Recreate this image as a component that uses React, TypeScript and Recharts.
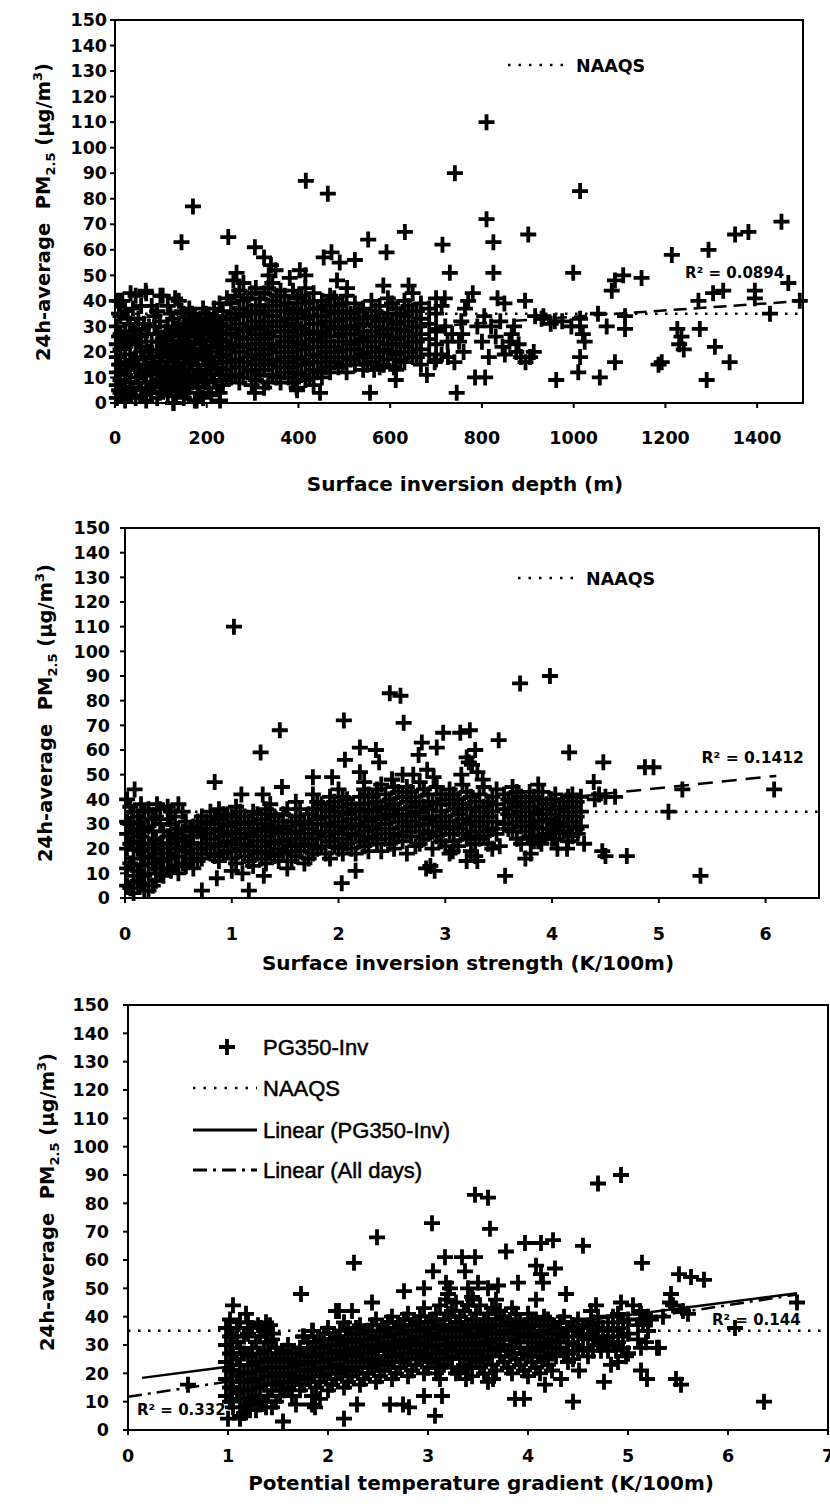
import React from 'react';
import { ScatterChart, Scatter, XAxis, YAxis, ReferenceLine, ReferenceArea, ReferenceDot, Legend } from 'recharts';

type P = [number, number];

const pmTicks = [0, 10, 20, 30, 40, 50, 60, 70, 80, 90, 100, 110, 120, 130, 140, 150];
const depthTicks = [0, 200, 400, 600, 800, 1000, 1200, 1400];
const strengthTicks = [0, 1, 2, 3, 4, 5, 6];
const gradientTicks = [0, 1, 2, 3, 4, 5, 6, 7];
const NAAQS = 35;

const depthTrend: P[] = [[0, 21.4], [1500, 40]];
const strengthTrend: P[] = [[0, 22], [6.1, 49.5]];
const pgTrend: P[] = [[0.14, 18.4], [6.69, 48.3]];
const allDaysTrend: P[] = [[0, 11.7], [6.69, 47.8]];

// ---------- Chart 1: surface inversion depth ----------
const depthDense: P[] = [
  [4,2],[4,7],[4,12],[4,18],[4,23],[4,30],[4,40],
  [12,4],[12,9],[12,15],[12,21],[12,27],[12,34],
  [22,1],[22,6],[22,11],[22,16],[22,22],[22,28],[22,36],
  [33,3],[33,8],[33,14],[33,19],[33,24],[33,31],
  [45,2],[45,10],[45,17],[45,23],[45,29],[45,42],
  [57,5],[57,12],[57,20],[57,26],[57,38],
  [68,1],[68,8],[68,15],[68,22],[68,27],[68,43],
  [80,4],[80,11],[80,18],[80,24],[80,38],
  [92,2],[92,9],[92,14],[92,21],[92,27],[92,36],
  [104,6],[104,12],[104,19],[104,25],[104,42],
  [115,3],[115,10],[115,16],[115,23],[115,30],[115,38],
  [127,0],[127,7],[127,14],[127,20],[127,26],[127,33],
  [139,5],[139,11],[139,18],[139,24],[139,31],[139,40],
  [150,2],[150,9],[150,15],[150,22],[150,28],[150,35],
  [162,6],[162,13],[162,19],[162,26],[162,32],[162,37],
  [174,1],[174,10],[174,17],[174,23],[174,30],[174,34],
  [186,4],[186,12],[186,20],[186,27],[186,33],
  [198,8],[198,15],[198,21],[198,29],[198,35],
  [210,3],[210,11],[210,18],[210,25],[210,31],
  [222,6],[222,14],[222,22],[222,28],[222,34],
  [235,7],[235,13],[235,19],[235,24],[235,30],[235,36],
  [253,10],[253,16],[253,22],[253,27],[253,33],[253,39],
  [271,8],[271,14],[271,20],[271,26],[271,31],[271,37],[271,44],
  [289,12],[289,18],[289,23],[289,29],[289,35],[289,41],
  [307,9],[307,15],[307,21],[307,27],[307,32],[307,38],[307,45],
  [325,6],[325,13],[325,19],[325,25],[325,30],[325,36],[325,43],
  [343,11],[343,17],[343,23],[343,28],[343,34],[343,40],[343,47],
  [361,8],[361,14],[361,20],[361,26],[361,32],[361,38],[361,44],
  [379,10],[379,16],[379,22],[379,28],[379,33],[379,39],
  [397,5],[397,12],[397,18],[397,24],[397,30],[397,35],[397,41],
  [415,9],[415,15],[415,21],[415,27],[415,33],[415,39],[415,45],
  [433,7],[433,13],[433,19],[433,25],[433,31],[433,37],[433,43],
  [451,10],[451,16],[451,22],[451,28],[451,34],[451,40],
  [469,12],[469,18],[469,24],[469,30],[469,36],[469,42],
  [487,14],[487,20],[487,26],[487,32],[487,38],
  [505,12],[505,18],[505,24],[505,30],[505,36],[505,42],
  [523,15],[523,21],[523,27],[523,33],[523,39],
  [541,13],[541,19],[541,25],[541,31],[541,37],
  [559,16],[559,22],[559,28],[559,34],[559,40],
  [577,14],[577,20],[577,26],[577,32],[577,38],
  [595,17],[595,23],[595,29],[595,35],[595,41],
  [613,13],[613,19],[613,25],[613,31],[613,37],
  [631,16],[631,22],[631,28],[631,34],[631,40],
  [649,18],[649,24],[649,30],[649,36],[649,43],
  [667,15],[667,21],[667,27],[667,33],[667,39],
  [685,19],[685,25],[685,31],[685,37],
  [700,17],[700,23],[700,29],[700,35],[700,41],
];
const depthFill: P[] = [
  [9,5],[9,15],[9,26],[9,35],[28,4],[28,13],[28,25],[28,33],[39,6],[39,17],[39,28],[39,37],
  [51,8],[51,15],[51,24],[51,33],[63,3],[63,11],[63,18],[63,31],[74,6],[74,13],[74,20],[74,30],
  [86,7],[86,16],[86,30],[86,34],[98,4],[98,12],[98,18],[98,24],[98,32],[110,8],[110,14],[110,21],[110,28],
  [121,5],[121,12],[121,19],[121,27],[121,35],[133,3],[133,9],[133,16],[133,22],[133,29],
  [145,7],[145,13],[145,20],[145,27],[145,36],[156,4],[156,11],[156,18],[156,24],[156,31],
  [168,8],[168,15],[168,21],[168,28],[168,35],[180,6],[180,13],[180,19],[180,26],[180,32],
  [192,2],[192,9],[192,17],[192,24],[192,30],[192,37],[204,6],[204,13],[204,20],[204,27],[204,33],
  [216,9],[216,16],[216,24],[216,30],[216,37],[228,4],[228,11],[228,18],[228,25],[228,31],[228,39],
  [244,10],[244,16],[244,21],[244,27],[244,33],[244,41],[262,11],[262,17],[262,23],[262,29],[262,35],[262,42],
  [280,10],[280,16],[280,22],[280,28],[280,34],[280,40],[298,7],[298,13],[298,19],[298,25],[298,30],[298,36],[298,43],
  [316,11],[316,17],[316,23],[316,29],[316,35],[316,41],[334,8],[334,15],[334,21],[334,27],[334,32],[334,38],[334,45],
  [352,10],[352,16],[352,22],[352,30],[352,36],[352,42],[370,12],[370,18],[370,24],[370,30],[370,36],[370,42],
  [388,8],[388,14],[388,20],[388,26],[388,31],[388,37],[388,44],[406,11],[406,17],[406,23],[406,29],[406,36],[406,42],
  [424,10],[424,16],[424,22],[424,28],[424,34],[424,40],[442,12],[442,18],[442,24],[442,31],[442,37],
  [460,14],[460,20],[460,26],[460,32],[460,38],[478,16],[478,22],[478,29],[478,35],[478,41],
  [496,15],[496,21],[496,27],[496,33],[496,39],[514,17],[514,23],[514,29],[514,35],
  [532,18],[532,24],[532,30],[532,36],[550,15],[550,20],[550,26],[550,33],
  [568,18],[568,24],[568,30],[568,36],[586,15],[586,21],[586,27],[586,33],
  [604,20],[604,26],[604,32],[604,39],[622,17],[622,23],[622,29],[622,35],
  [640,20],[640,26],[640,32],[640,38],[658,18],[658,24],[658,30],[658,36],
];
const depthMid: P[] = [
  [325,57],[340,54],[350,52],[335,50],[258,48],[265,51],[280,47],[381,49],[403,52],[415,50],
  [484,48],[506,45],[585,46],[640,46],[11,40],[34,43],[67,44],[99,42],[131,41],[16,40],
  [712,19],[726,18],[740,16],[697,16],[750,24],[757,27],[719,41],[712,38],[780,43],[770,40],
  [763,37],[834,41],[849,39],[894,40],[916,34],[934,34],[830,26],[845,22],[860,24],[875,20],
  [885,18],[895,16],[850,19],[865,27],[880,23],[905,18],[913,20],[720,30],[735,27],[755,32],
  [790,30],[805,34],[820,30],[840,32],[870,30],[760,20],[800,24],[815,18],[725,24],[700,28],
  [930,33],[950,31],[975,32],[995,30],[959,32],[1014,33],[1014,30],[1020,27],[1024,24],[1072,30],
  [1112,29],[1112,34],[1053,35],[1226,29],[1235,26],[1230,23],[1240,21],[1275,29],
];
const depthHigh: P[] = [
  [810,110],[741,90],[1014,83],[416,87],[464,82],[170,77],[810,72],[145,63],[247,65],[632,67],
  [552,64],[592,59],[714,62],[825,63],[901,66],[305,61],[523,56],[455,57],[472,59],[490,55],
  [730,51],[825,51],[999,51],[1453,71],[1352,66],[1381,67],[1294,60],[1214,58],[1468,47],[1090,48],
  [1108,50],[1148,49],[1083,44],[1304,43],[1326,44],[1395,44],[1395,41],[1272,40],[1493,40],[1428,35],
];
const depthLow: P[] = [
  [305,4],[128,0],[178,1],[229,1],[396,6],[447,4],[233,9],[556,4],[612,9],[565,13],
  [608,14],[745,4],[785,10],[807,10],[680,11],[962,9],[1010,12],[1057,10],[1290,9],[1340,16],
  [1308,22],[1090,16],[1192,16],[1185,15],[1014,18],
];

// ---------- Chart 2: surface inversion strength ----------
const strengthDense: P[] = [
  [0.02,5],[0.02,12],[0.02,20],[0.02,26],[0.02,31],[0.02,40],
  [0.08,2],[0.08,9],[0.08,16],[0.08,23],[0.08,28],[0.08,35],[0.09,44],
  [0.15,6],[0.15,13],[0.15,19],[0.15,25],[0.15,31],[0.15,38],
  [0.22,3],[0.22,10],[0.22,17],[0.22,22],[0.22,29],[0.22,36],
  [0.29,7],[0.29,12],[0.29,18],[0.29,24],[0.29,33],[0.3,38],
  [0.36,9],[0.36,15],[0.36,20],[0.36,27],[0.4,37],
  [0.43,11],[0.43,16],[0.43,22],[0.43,30],[0.43,35],
  [0.5,10],[0.5,17],[0.5,24],[0.5,28],[0.5,38],
  [0.57,13],[0.57,19],[0.57,23],[0.57,31],
  [0.64,12],[0.64,18],[0.64,25],[0.64,29],
  [0.72,16],[0.72,22],[0.72,28],[0.72,33],
  [0.8,18],[0.8,24],[0.8,30],[0.8,35],
  [0.88,15],[0.88,21],[0.88,27],[0.88,32],[0.88,36],
  [0.96,19],[0.96,23],[0.96,29],[0.96,34],
  [1.04,14],[1.04,20],[1.04,26],[1.04,31],[1.04,37],
  [1.12,17],[1.12,22],[1.12,28],[1.12,33],
  [1.2,13],[1.2,19],[1.2,25],[1.2,30],[1.2,35],
  [1.28,16],[1.28,21],[1.28,27],[1.28,32],
  [1.36,18],[1.36,23],[1.36,29],[1.36,34],[1.36,38],
  [1.44,15],[1.44,20],[1.44,26],[1.44,31],
  [1.52,12],[1.52,19],[1.52,24],[1.52,29],[1.52,36],
  [1.6,17],[1.6,22],[1.6,27],[1.6,33],[1.6,39],
  [1.68,14],[1.68,21],[1.68,26],[1.68,31],
  [1.76,18],[1.76,24],[1.76,30],[1.76,36],[1.76,42],
  [1.84,21],[1.84,27],[1.84,33],[1.84,38],
  [1.92,16],[1.92,23],[1.92,29],[1.92,35],[1.92,41],
  [2.0,20],[2.0,26],[2.0,31],[2.0,37],[2.0,44],
  [2.08,22],[2.08,28],[2.08,34],[2.08,40],
  [2.16,18],[2.16,25],[2.16,30],[2.16,36],
  [2.24,21],[2.24,27],[2.24,33],[2.24,38],[2.24,44],
  [2.32,24],[2.32,29],[2.32,35],[2.32,41],
  [2.4,19],[2.4,26],[2.4,32],[2.4,37],[2.4,46],
  [2.48,22],[2.48,28],[2.48,34],[2.48,40],[2.5,48],
  [2.56,25],[2.56,31],[2.56,36],[2.56,43],[2.6,50],
  [2.64,18],[2.64,27],[2.64,33],[2.64,39],[2.64,45],
  [2.72,21],[2.72,29],[2.72,35],[2.72,41],[2.7,50],
  [2.8,24],[2.8,30],[2.8,37],[2.8,44],[2.83,52],
  [2.88,20],[2.88,27],[2.88,33],[2.88,39],[2.89,49],
  [2.96,23],[2.96,29],[2.96,35],[2.96,42],
  [3.04,18],[3.04,26],[3.04,31],[3.04,38],[3.04,44],
  [3.12,21],[3.12,28],[3.12,34],[3.12,40],
  [3.2,24],[3.2,30],[3.2,36],[3.2,43],
  [3.28,22],[3.28,27],[3.28,33],[3.28,39],
  [3.36,25],[3.36,31],[3.36,37],[3.36,45],
  [3.44,20],[3.44,28],[3.44,35],[3.44,41],
  [3.55,30],[3.55,36],[3.55,42],
  [3.63,27],[3.63,33],[3.63,39],[3.63,45],
  [3.71,22],[3.71,29],[3.71,35],[3.71,41],
  [3.79,25],[3.79,31],[3.79,37],[3.79,43],
  [3.87,23],[3.87,28],[3.87,34],[3.87,40],[3.87,46],
  [3.95,26],[3.95,32],[3.95,38],
  [4.03,24],[4.03,30],[4.03,36],[4.03,42],
  [4.11,27],[4.11,33],[4.11,39],
  [4.19,25],[4.19,31],[4.19,37],[4.19,42],
  [4.27,29],[4.27,35],[4.27,41],
];
const strengthFill: P[] = [
  [0.05,4],[0.05,14],[0.05,22],[0.05,30],[0.05,37],[0.12,7],[0.12,11],[0.12,20],[0.12,27],[0.12,33],
  [0.18,3],[0.18,9],[0.18,16],[0.18,22],[0.18,28],[0.18,35],[0.26,5],[0.26,14],[0.26,20],[0.26,27],[0.26,32],
  [0.33,10],[0.33,16],[0.33,22],[0.33,30],[0.33,36],[0.4,12],[0.4,18],[0.4,25],[0.4,32],
  [0.47,13],[0.47,20],[0.47,26],[0.47,33],[0.54,14],[0.54,21],[0.54,27],[0.54,35],
  [0.61,16],[0.61,22],[0.61,28],[0.68,15],[0.68,20],[0.68,27],[0.68,31],[0.76,20],[0.76,26],[0.76,31],
  [0.84,17],[0.84,22],[0.84,28],[0.84,33],[0.92,18],[0.92,25],[0.92,30],[0.92,34],
  [1.0,16],[1.0,22],[1.0,27],[1.0,33],[1.08,19],[1.08,24],[1.08,30],[1.08,35],
  [1.16,15],[1.16,21],[1.16,26],[1.16,31],[1.24,18],[1.24,23],[1.24,28],[1.24,34],
  [1.32,14],[1.32,19],[1.32,25],[1.32,30],[1.32,36],[1.4,17],[1.4,22],[1.4,27],[1.4,33],
  [1.48,18],[1.48,23],[1.48,28],[1.48,34],[1.56,15],[1.56,21],[1.56,26],[1.56,31],
  [1.64,19],[1.64,24],[1.64,30],[1.64,36],[1.72,16],[1.72,22],[1.72,28],[1.72,34],
  [1.8,20],[1.8,26],[1.8,32],[1.8,39],[1.88,18],[1.88,25],[1.88,30],[1.88,36],
  [1.96,21],[1.96,27],[1.96,33],[1.96,39],[2.04,18],[2.04,24],[2.04,29],[2.04,35],[2.04,41],
  [2.12,20],[2.12,26],[2.12,32],[2.12,38],[2.2,23],[2.2,29],[2.2,35],[2.2,41],
  [2.28,19],[2.28,25],[2.28,31],[2.28,36],[2.28,42],[2.36,22],[2.36,28],[2.36,33],[2.36,39],[2.36,44],
  [2.44,24],[2.44,30],[2.44,36],[2.44,42],[2.52,20],[2.52,26],[2.52,33],[2.52,38],[2.52,45],
  [2.6,23],[2.6,29],[2.6,34],[2.6,41],[2.68,25],[2.68,31],[2.68,37],[2.68,43],
  [2.76,22],[2.76,27],[2.76,33],[2.76,39],[2.76,47],[2.84,26],[2.84,32],[2.84,36],[2.84,42],
  [2.92,25],[2.92,31],[2.92,38],[2.92,45],[3.0,21],[3.0,28],[3.0,33],[3.0,40],
  [3.08,23],[3.08,29],[3.08,36],[3.08,42],[3.16,26],[3.16,32],[3.16,38],[3.16,46],
  [3.24,19],[3.24,25],[3.24,31],[3.24,36],[3.24,41],[3.32,24],[3.32,29],[3.32,35],[3.32,42],
  [3.4,22],[3.4,27],[3.4,33],[3.4,39],[3.48,26],[3.48,31],[3.48,38],[3.48,44],
  [3.59,28],[3.59,34],[3.59,40],[3.67,24],[3.67,31],[3.67,37],[3.67,43],[3.75,27],[3.75,33],[3.75,39],
  [3.83,23],[3.83,29],[3.83,35],[3.83,41],[3.91,25],[3.91,31],[3.91,36],[3.91,43],
  [3.99,28],[3.99,34],[3.99,40],[4.07,26],[4.07,31],[4.07,37],[4.15,23],[4.15,29],[4.15,35],[4.15,41],
  [4.23,28],[4.23,33],[4.23,39],
];
const strengthHigh: P[] = [
  [1.02,110],[2.48,83],[2.58,82],[2.61,71],[2.05,72],[1.45,68],[1.27,59],[0.84,47],[1.09,42],[1.29,42],
  [1.47,45],[1.76,49],[1.94,49],[2.06,56],[2.2,61],[2.35,60],[2.38,55],[2.2,51],[2.24,47],[3.98,90],
  [3.7,87],[2.98,67],[3.14,67],[3.23,68],[3.5,64],[2.78,63],[2.92,61],[2.75,58],[4.16,59],[4.48,55],
  [4.87,53],[4.95,53],[4.39,47],[5.22,44],[6.08,44],[5.09,35],[4.59,41],[4.44,42],[3.2,57],[3.25,54],
  [3.3,51],[3.15,50],[3.35,48],[3.28,60],[3.22,55],[2.5,48],[4.4,40],[4.5,41],
];
const strengthLow: P[] = [
  [2.03,6],[2.16,11],[1.16,3],[0.72,3],[1.3,9],[0.86,8],[1.0,11],[1.1,10],[5.39,9],[4.7,17],
  [4.5,17],[4.47,19],[4.14,20],[3.75,16],[3.56,9],[3.28,17],[3.3,15],[2.82,12],[2.9,11],[2.86,13],
  [3.51,21],[3.8,18],[3.8,24],[3.8,29],[4.0,24],[4.02,27],[4.05,29],[4.24,26],[3.07,19],[3.2,15],
  [4.3,22],[3.9,22],[4.05,20],
];

// ---------- Chart 3: potential temperature gradient ----------
const gradientDense: P[] = [
  [0.98,12],[0.98,18],[0.98,24],[0.98,30],[0.98,36],
  [1.05,8],[1.05,15],[1.05,21],[1.05,27],[1.05,33],
  [1.12,5],[1.12,11],[1.12,17],[1.12,23],[1.12,29],[1.12,38],
  [1.2,9],[1.2,14],[1.2,20],[1.2,26],[1.2,34],
  [1.28,7],[1.28,12],[1.28,18],[1.28,24],[1.28,31],
  [1.36,10],[1.36,16],[1.36,22],[1.36,28],[1.36,35],
  [1.44,8],[1.44,14],[1.44,19],[1.44,25],[1.44,32],
  [1.52,12],[1.52,17],[1.52,22],[1.52,27],
  [1.6,15],[1.6,20],[1.6,25],[1.6,30],
  [1.68,9],[1.68,18],[1.68,23],[1.68,27],
  [1.76,16],[1.76,21],[1.76,26],[1.76,33],
  [1.84,12],[1.84,19],[1.84,24],[1.84,29],[1.84,35],
  [1.92,17],[1.92,22],[1.92,27],[1.92,32],
  [2.0,14],[2.0,20],[2.0,25],[2.0,30],[2.0,36],
  [2.08,18],[2.08,23],[2.08,28],[2.08,33],
  [2.16,15],[2.16,21],[2.16,26],[2.16,31],[2.16,38],
  [2.24,19],[2.24,24],[2.24,29],[2.24,34],
  [2.32,16],[2.32,22],[2.32,27],[2.32,32],[2.32,37],
  [2.4,20],[2.4,25],[2.4,30],[2.4,35],
  [2.48,17],[2.48,23],[2.48,28],[2.48,33],[2.48,39],
  [2.56,21],[2.56,26],[2.56,31],[2.56,36],
  [2.64,18],[2.64,24],[2.64,29],[2.64,34],[2.64,40],
  [2.72,22],[2.72,27],[2.72,32],[2.72,37],
  [2.8,19],[2.8,25],[2.8,30],[2.8,35],[2.8,41],
  [2.88,23],[2.88,28],[2.88,33],[2.88,38],
  [2.96,20],[2.96,26],[2.96,31],[2.96,36],[2.96,43],
  [3.04,24],[3.04,29],[3.04,34],[3.04,39],
  [3.12,18],[3.12,22],[3.12,27],[3.12,32],[3.12,37],[3.12,44],
  [3.2,25],[3.2,30],[3.2,35],[3.2,41],[3.2,48],
  [3.28,20],[3.28,28],[3.28,33],[3.28,38],[3.28,45],
  [3.36,23],[3.36,27],[3.36,31],[3.36,36],[3.36,42],
  [3.44,19],[3.44,25],[3.44,30],[3.44,34],[3.44,39],[3.44,47],
  [3.52,22],[3.52,28],[3.52,33],[3.52,37],[3.52,44],
  [3.6,17],[3.6,26],[3.6,31],[3.6,36],[3.6,41],[3.6,50],
  [3.68,21],[3.68,29],[3.68,34],[3.68,39],[3.68,46],
  [3.76,24],[3.76,30],[3.76,35],[3.76,40],
  [3.84,20],[3.84,27],[3.84,32],[3.84,37],[3.84,43],
  [3.92,23],[3.92,29],[3.92,34],[3.92,38],
  [4.0,19],[4.0,26],[4.0,31],[4.0,36],[4.0,41],
  [4.08,22],[4.08,28],[4.08,33],[4.08,39],[4.08,46],
  [4.16,25],[4.16,30],[4.16,35],[4.16,40],
  [4.24,21],[4.24,27],[4.24,32],[4.24,37],
  [4.32,29],[4.32,34],[4.32,38],
  [4.4,24],[4.4,31],[4.4,36],
  [4.5,28],[4.5,33],[4.5,39],
  [4.6,26],[4.6,32],[4.6,37],
  [4.7,30],[4.7,35],[4.7,40],
  [4.8,28],[4.8,33],[4.8,38],
  [4.9,31],[4.9,36],[4.9,41],
  [5.0,27],[5.0,34],[5.0,39],
  [5.1,32],[5.1,37],
  [5.2,35],[5.2,40],
];
const gradientFill: P[] = [
  [1.02,10],[1.02,15],[1.02,21],[1.02,27],[1.02,33],[1.02,39],[1.09,13],[1.09,19],[1.09,25],[1.09,31],[1.09,36],
  [1.16,8],[1.16,14],[1.16,20],[1.16,27],[1.16,33],[1.24,11],[1.24,17],[1.24,23],[1.24,29],[1.24,36],
  [1.32,9],[1.32,15],[1.32,21],[1.32,27],[1.32,33],[1.4,12],[1.4,19],[1.4,25],[1.4,31],
  [1.48,10],[1.48,16],[1.48,20],[1.48,24],[1.48,29],[1.56,14],[1.56,19],[1.56,24],[1.56,28],
  [1.64,12],[1.64,17],[1.64,22],[1.64,27],[1.72,14],[1.72,19],[1.72,24],[1.72,29],
  [1.8,18],[1.8,23],[1.8,28],[1.8,31],[1.88,15],[1.88,21],[1.88,26],[1.88,31],
  [1.96,19],[1.96,24],[1.96,29],[1.96,34],[2.04,16],[2.04,22],[2.04,27],[2.04,32],
  [2.12,20],[2.12,25],[2.12,30],[2.12,35],[2.2,17],[2.2,22],[2.2,27],[2.2,32],[2.2,36],
  [2.28,21],[2.28,26],[2.28,31],[2.28,36],[2.36,18],[2.36,24],[2.36,29],[2.36,34],
  [2.44,22],[2.44,27],[2.44,32],[2.44,37],[2.52,19],[2.52,24],[2.52,30],[2.52,35],
  [2.6,23],[2.6,28],[2.6,33],[2.6,38],[2.68,20],[2.68,26],[2.68,31],[2.68,36],
  [2.76,24],[2.76,29],[2.76,34],[2.76,39],[2.84,21],[2.84,27],[2.84,32],[2.84,37],
  [2.92,25],[2.92,30],[2.92,35],[2.92,40],[3.0,22],[3.0,27],[3.0,33],[3.0,38],
  [3.08,20],[3.08,25],[3.08,30],[3.08,36],[3.08,41],[3.16,23],[3.16,28],[3.16,33],[3.16,39],
  [3.24,22],[3.24,26],[3.24,31],[3.24,36],[3.24,42],[3.32,21],[3.32,25],[3.32,30],[3.32,35],[3.32,40],
  [3.4,22],[3.4,28],[3.4,33],[3.4,37],[3.4,44],[3.48,24],[3.48,27],[3.48,31],[3.48,36],[3.48,41],
  [3.56,20],[3.56,25],[3.56,30],[3.56,35],[3.56,39],[3.64,23],[3.64,28],[3.64,32],[3.64,37],[3.64,43],
  [3.72,26],[3.72,32],[3.72,37],[3.72,42],[3.8,22],[3.8,28],[3.8,34],[3.8,38],
  [3.88,25],[3.88,31],[3.88,36],[3.88,41],[3.96,21],[3.96,27],[3.96,33],[3.96,37],
  [4.04,24],[4.04,29],[4.04,34],[4.04,39],[4.12,20],[4.12,26],[4.12,31],[4.12,37],
  [4.2,23],[4.2,29],[4.2,34],[4.2,39],[4.28,26],[4.28,31],[4.28,36],[4.36,27],[4.36,33],[4.36,40],
  [4.45,30],[4.45,35],[4.45,37],[4.55,29],[4.55,34],[4.65,28],[4.65,33],[4.65,38],
  [4.75,31],[4.75,36],[4.85,30],[4.85,35],[4.85,40],[4.95,29],[4.95,33],[4.95,38],
];
const gradientHigh: P[] = [
  [2.49,68],[2.26,59],[1.73,48],[2.76,49],[2.44,45],[2.11,42],[2.24,42],[1.05,44],[1.18,41],[1.3,37],
  [1.38,38],[1.42,37],[3.04,73],[3.17,61],[3.34,61],[3.47,61],[3.05,56],[3.37,56],[2.96,50],[3.18,52],
  [2.08,42],[3.47,83],[3.6,82],[4.7,87],[4.93,90],[3.62,71],[3.97,66],[4.13,66],[4.25,67],[3.78,63],
  [4.55,65],[5.14,59],[5.51,55],[5.63,54],[5.76,53],[4.08,58],[4.13,55],[4.27,57],[4.15,52],[4.38,48],
  [3.7,51],[3.9,52],[3.4,50],[3.45,46],[3.5,52],[3.22,50],[3.18,46],[4.55,36],[4.68,44],[4.63,42],
  [5.05,44],[5.12,42],[5.15,38],[5.2,35],[5.13,41],[5.23,39],[5.42,45],[5.45,44],[5.55,42],[5.6,41],
  [5.35,40],[6.07,36],[6.69,45],[5.43,48],[4.93,45],[1.0,36],[1.2,38],[1.33,36],[1.45,34],[1.75,33],
  [1.85,35],
];
const gradientLow: P[] = [
  [1.55,3],[2.16,4],[1.0,4],[1.12,4],[1.22,7],[0.6,16],[2.29,9],[2.62,9],[2.75,9],[2.81,8],
  [1.87,8],[1.92,11],[1.84,9],[1.38,8],[1.24,10],[1.16,6],[3.07,5],[3.14,12],[2.96,12],[6.36,10],
  [5.48,18],[5.53,16],[5.13,21],[5.19,18],[4.76,17],[4.45,10],[4.33,18],[4.17,16],[4.51,21],[3.87,11],
  [3.96,11],[5.29,29],[5.13,29],[5.0,27],[4.9,24],[4.83,23],[4.73,28],[4.78,31],[4.4,27],[4.45,25],
  [3.65,18],[3.38,18],[5.31,29],[5.18,31],[4.98,26],[4.81,31],[4.88,28],[4.68,32],
];

const toXY = (pts: P[]) => pts.map(([x, y]) => ({ x, y }));
const seg = (t: P[]) => t.map(([x, y]) => ({ x, y }));

const depthData = toXY([...depthDense, ...depthFill, ...depthMid, ...depthHigh, ...depthLow]);
const strengthData = toXY([...strengthDense, ...strengthFill, ...strengthHigh, ...strengthLow]);
const gradientData = toXY([...gradientDense, ...gradientFill, ...gradientHigh, ...gradientLow]);

const FONT = '"DejaVu Sans", Verdana, sans-serif';
const LEG_FONT = '"Liberation Sans", Arial, sans-serif';
const TICK = { fontSize: 17.5, fontWeight: 700, fontFamily: FONT, fill: '#000' };

const Cross = (props: any) => {
  const { cx, cy } = props;
  if (typeof cx !== 'number' || typeof cy !== 'number') return <g />;
  const h = 8;
  return <path d={`M${cx - h},${cy}H${cx + h}M${cx},${cy - h}V${cy + h}`} stroke="#000" strokeWidth={3.8} fill="none" />;
};

const YTitle = (props: any) => {
  const { tx, ty } = props;
  return (
    <text x={tx} y={ty + 7} transform={`rotate(-90 ${tx} ${ty})`} textAnchor="middle" fill="#000" fontFamily={FONT} fontWeight={700} fontSize={19.5}>
      24h-average{'\u00A0\u00A0'}PM<tspan fontSize={13} dy={5}>2.5</tspan><tspan dy={-5}>{'\u00A0'}(μg/m</tspan><tspan fontSize={13} dy={-8}>3</tspan><tspan dy={8}>)</tspan>
    </text>
  );
};

const XTitle = (props: any) => (
  <text x={props.tx} y={props.ty} textAnchor="middle" fill="#000" fontFamily={FONT} fontWeight={700} fontSize={20}>{props.caption}</text>
);

const NaaqsLegend = () => (
  <svg width={160} height={24} style={{ display: 'block' }}>
    <line x1={3} y1={12} x2={66} y2={12} stroke="#000" strokeWidth={2.5} strokeDasharray="2.5 8" />
    <text x={71} y={18.5} fill="#000" fontFamily={FONT} fontWeight={700} fontSize={17.5}>NAAQS</text>
  </svg>
);

const GradLegend = () => (
  <svg width={300} height={160} style={{ display: 'block' }}>
    <path d="M29,17H45M37,9V25" stroke="#000" strokeWidth={3.8} />
    <text x={73} y={25} fill="#000" stroke="#000" strokeWidth={0.5} fontFamily={LEG_FONT} fontSize={22}>PG350-Inv</text>
    <line x1={3} y1={58} x2={67} y2={58} stroke="#000" strokeWidth={2.5} strokeDasharray="2.5 8" />
    <text x={73} y={66} fill="#000" stroke="#000" strokeWidth={0.5} fontFamily={LEG_FONT} fontSize={22}>NAAQS</text>
    <line x1={3} y1={100} x2={67} y2={100} stroke="#000" strokeWidth={3} />
    <text x={73} y={108} fill="#000" stroke="#000" strokeWidth={0.5} fontFamily={LEG_FONT} fontSize={22}>Linear (PG350-Inv)</text>
    <line x1={3} y1={140} x2={67} y2={140} stroke="#000" strokeWidth={3} strokeDasharray="14 6 3 6" />
    <text x={73} y={148} fill="#000" stroke="#000" strokeWidth={0.5} fontFamily={LEG_FONT} fontSize={22}>Linear (All days)</text>
  </svg>
);

const axisCommon = {
  stroke: '#000',
  axisLine: { stroke: '#000', strokeWidth: 2 },
  tickLine: { stroke: '#000', strokeWidth: 2 },
  tick: TICK,
  tickSize: 5,
  interval: 0 as const,
};

const rLabel = (value: string, size: number) => ({
  value, position: 'right' as const, offset: 0, fontSize: size, fontWeight: 700, fontFamily: FONT, fill: '#000',
});

export default function App() {
  return (
    <div style={{ position: 'absolute', left: 0, top: 0, width: 830, height: 1504, background: '#fff' }}>
      {/* Chart 1 */}
      <div style={{ position: 'absolute', left: 0, top: 0 }}>
        <ScatterChart width={830} height={500} margin={{ top: 20, right: 27, bottom: 0, left: 0 }}>
          <XAxis type="number" dataKey="x" domain={[0, 1500]} ticks={depthTicks} height={97} tickMargin={24} {...axisCommon}
            label={<XTitle tx={465} ty={490.5} caption="Surface inversion depth (m)" />} />
          <YAxis type="number" dataKey="y" domain={[0, 150]} ticks={pmTicks} width={115} tickMargin={3} {...axisCommon}
            label={<YTitle tx={43} ty={212} />} />
          <ReferenceArea x1={0} x2={1500} y1={0} y2={150} fill="none" stroke="#000" strokeWidth={2} ifOverflow="visible" />
          <ReferenceLine y={NAAQS} stroke="#000" strokeWidth={2.5} strokeDasharray="2.5 7.5" />
          <Scatter name="PM2.5" data={depthData} shape={Cross} isAnimationActive={false} />
          <ReferenceLine segment={seg(depthTrend)} stroke="#000" strokeWidth={2.5} strokeDasharray="13 7" />
          <ReferenceDot x={1243} y={51} r={0} fill="none" stroke="none" label={rLabel('R² = 0.0894', 15)} />
          <Legend layout="vertical" align="center" verticalAlign="middle" wrapperStyle={{ left: 505, top: 53, width: 160, height: 24 }} content={() => <NaaqsLegend />} />
        </ScatterChart>
      </div>
      {/* Chart 2 */}
      <div style={{ position: 'absolute', left: 0, top: 500 }}>
        <ScatterChart width={830} height={480} margin={{ top: 28, right: 11, bottom: 0, left: 0 }}>
          <XAxis type="number" dataKey="x" domain={[0, 6.5]} ticks={strengthTicks} height={82} tickMargin={25} {...axisCommon}
            label={<XTitle tx={468} ty={469.5} caption="Surface inversion strength (K/100m)" />} />
          <YAxis type="number" dataKey="y" domain={[0, 150]} ticks={pmTicks} width={125} tickMargin={10} {...axisCommon}
            label={<YTitle tx={45} ty={213} />} />
          <ReferenceArea x1={0} x2={6.5} y1={0} y2={150} fill="none" stroke="#000" strokeWidth={2} ifOverflow="visible" />
          <ReferenceLine y={NAAQS} stroke="#000" strokeWidth={2.5} strokeDasharray="2.5 7.5" />
          <Scatter name="PM2.5" data={strengthData} shape={Cross} isAnimationActive={false} />
          <ReferenceLine segment={seg(strengthTrend)} stroke="#000" strokeWidth={2.5} strokeDasharray="15 9" />
          <ReferenceDot x={5.4} y={57} r={0} fill="none" stroke="none" label={rLabel('R² = 0.1412', 15.5)} />
          <Legend layout="vertical" align="center" verticalAlign="middle" wrapperStyle={{ left: 515, top: 66, width: 160, height: 24 }} content={() => <NaaqsLegend />} />
        </ScatterChart>
      </div>
      {/* Chart 3 */}
      <div style={{ position: 'absolute', left: 0, top: 980 }}>
        <ScatterChart width={830} height={524} margin={{ top: 25, right: 2, bottom: 0, left: 0 }}>
          <XAxis type="number" dataKey="x" domain={[0, 7]} ticks={gradientTicks} height={74} tickMargin={15} {...axisCommon}
            label={<XTitle tx={481} ty={509.5} caption="Potential temperature gradient (K/100m)" />} />
          <YAxis type="number" dataKey="y" domain={[0, 150]} ticks={pmTicks} width={128} tickMargin={14} {...axisCommon}
            label={<YTitle tx={47} ty={222} />} />
          <ReferenceArea x1={0} x2={7} y1={0} y2={150} fill="none" stroke="#000" strokeWidth={2} ifOverflow="visible" />
          <ReferenceLine y={NAAQS} stroke="#000" strokeWidth={2.5} strokeDasharray="2.5 7.5" />
          <Scatter name="PG350-Inv" data={gradientData} shape={Cross} isAnimationActive={false} />
          <ReferenceLine segment={seg(pgTrend)} stroke="#000" strokeWidth={2.5} />
          <ReferenceLine segment={seg(allDaysTrend)} stroke="#000" strokeWidth={2.5} strokeDasharray="14 6 3 6" />
          <ReferenceDot x={5.84} y={39} r={0} fill="none" stroke="none" label={rLabel('R² = 0.144', 15)} />
          <ReferenceDot x={0.09} y={7} r={0} fill="none" stroke="none" label={rLabel('R² = 0.332', 15)} />
          <Legend layout="vertical" align="center" verticalAlign="middle" wrapperStyle={{ left: 190, top: 50, width: 300, height: 160 }} content={() => <GradLegend />} />
        </ScatterChart>
      </div>
    </div>
  );
}
